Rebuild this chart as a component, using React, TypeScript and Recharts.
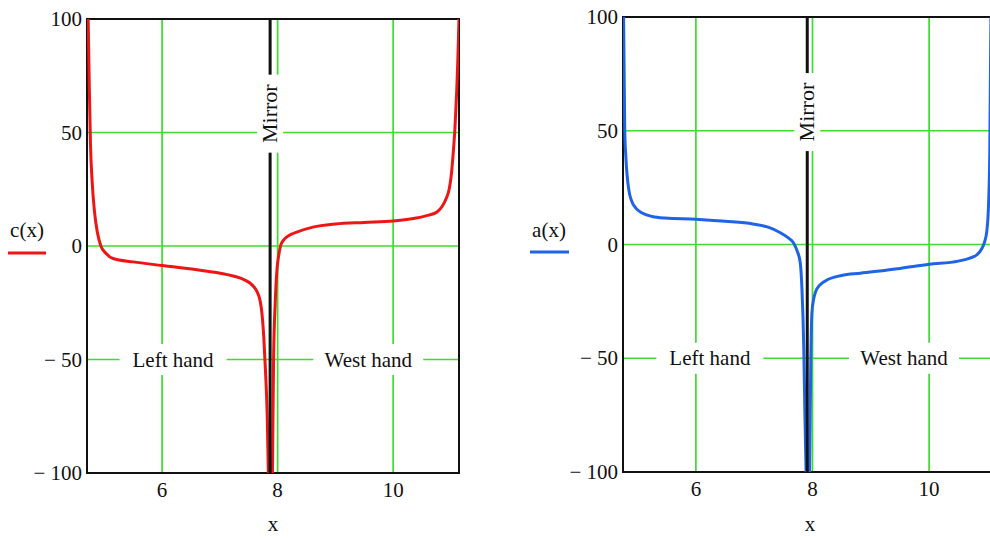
import {
  LineChart, Line, XAxis, YAxis, CartesianGrid, ReferenceLine, ReferenceDot, ReferenceArea
} from 'recharts';

const SERIF = '"Liberation Serif", "Times New Roman", Times, serif';
const GREEN = '#3ddc2e';
const INK = '#111';

// c(x): branch left of the mirror, then right of it
const cLeftX = [4.72, 4.74, 4.76, 4.79, 4.83, 4.88, 4.94, 5.02, 5.15, 5.5, 6.0, 6.66, 7.23, 7.4, 7.52, 7.6, 7.66, 7.7, 7.73, 7.76, 7.79, 7.82, 7.84];
const cLeftY = [100, 70, 45, 28, 15, 6, 0, -3, -5.5, -7, -8.6, -10.7, -13.2, -14.6, -16.3, -18.3, -21, -24.5, -30, -40, -55, -75, -100];
const cRightX = [7.91, 7.93, 7.96, 7.99, 8.02, 8.05, 8.1, 8.16, 8.24, 8.33, 8.61, 9.0, 9.5, 10.0, 10.4, 10.6, 10.76, 10.85, 10.92, 10.97, 11.01, 11.04, 11.07, 11.1, 11.12, 11.14];
const cRightY = [-100, -50, -24, -10, -4, 0, 2.5, 4, 5.2, 6.1, 8.3, 9.7, 10.4, 11, 12.3, 13.5, 15, 17.5, 21, 25, 32, 41, 52, 68, 82, 100];

// a(x): the mirrored curve
const aLeftX = [4.76, 4.78, 4.8, 4.85, 4.9, 4.97, 5.07, 5.25, 5.47, 6.0, 6.5, 6.98, 7.25, 7.44, 7.58, 7.67, 7.74, 7.79, 7.82, 7.85, 7.87, 7.89];
const aLeftY = [100, 50, 38, 24, 19, 16, 14, 12.3, 11.6, 11.1, 10.2, 9, 7.5, 5.3, 3, 0.9, -3, -8, -20, -45, -75, -100];
const aRightX = [7.95, 7.97, 7.99, 8.02, 8.05, 8.12, 8.22, 8.5, 8.82, 9.5, 10.0, 10.5, 10.7, 10.82, 10.9, 10.95, 10.99, 11.02, 11.04, 11.06];
const aRightY = [-100, -52, -30, -24, -21, -18, -16, -13.6, -12.6, -10.5, -8.7, -7.3, -6, -4.5, -2, 1, 6, 18, 40, 100];

const xTicks = [6, 8, 10];
const yTicks = [-100, -50, 0, 50, 100];

type Row = { x: number; y: number };
const rows = (xs: number[], ys: number[]): Row[] => xs.map((x, i) => ({ x, y: ys[i] }));

const XTick = (p: any) => (
  <text x={p.x} y={p.y + 24} textAnchor="middle" fontSize={21} fontFamily={SERIF} fill={INK}>
    {p.payload.value}
  </text>
);

const YTick = (p: any) => {
  const v = p.payload.value;
  return (
    <text x={p.x} y={p.y + 7} textAnchor="end" fontSize={21} fontFamily={SERIF} fill={INK}>
      {v < 0 ? `− ${-v}` : v}
    </text>
  );
};

const boxLabel = (text: string, w: number, h: number) => (p: any) => (
  <g>
    <rect x={p.cx - w / 2} y={p.cy - h / 2} width={w} height={h} fill="#fff" />
    <text x={p.cx} y={p.cy + 7} textAnchor="middle" fontSize={21} fontFamily={SERIF} fill={INK}>
      {text}
    </text>
  </g>
);

const mirrorLabel = (p: any) => (
  <g>
    <rect x={p.cx - 13} y={p.cy - 39} width={26} height={78} fill="#fff" />
    <text
      x={p.cx}
      y={p.cy}
      dy={7}
      transform={`rotate(-90 ${p.cx} ${p.cy})`}
      textAnchor="middle"
      fontSize={22}
      fontFamily={SERIF}
      fill={INK}
    >
      Mirror
    </text>
  </g>
);

type PanelProps = {
  left: number;
  top: number;
  axisH: number;
  domain: [number, number];
  mirror: number;
  mirrorY: number;
  leftHandX: number;
  westHandX: number;
  pieces: Row[][];
  color: string;
};

function Panel({ left, top, axisH, domain, mirror, mirrorY, leftHandX, westHandX, pieces, color }: PanelProps) {
  return (
    <div style={{ position: 'absolute', left, top: 0 }}>
      <LineChart width={480} height={538} margin={{ top, right: 21, left: 0, bottom: 0 }}>
        <CartesianGrid stroke={GREEN} strokeWidth={1.7} />
        <XAxis
          type="number"
          dataKey="x"
          domain={domain}
          ticks={xTicks}
          allowDataOverflow
          axisLine={false}
          tickLine={false}
          tickSize={0}
          tickMargin={0}
          height={axisH}
          tick={XTick}
        />
        <YAxis
          type="number"
          dataKey="y"
          domain={[-100, 100]}
          ticks={yTicks}
          allowDataOverflow
          axisLine={false}
          tickLine={false}
          tickSize={0}
          tickMargin={5}
          width={87}
          tick={YTick}
        />
        {pieces.map((d, i) => (
          <Line
            key={i}
            data={d}
            dataKey="y"
            type="monotone"
            stroke={color}
            strokeWidth={3}
            dot={false}
            activeDot={false}
            isAnimationActive={false}
          />
        ))}
        <ReferenceLine x={mirror} stroke={INK} strokeWidth={3} />
        <ReferenceDot x={mirror} y={mirrorY} r={0} shape={mirrorLabel} />
        <ReferenceDot x={leftHandX} y={-50} r={0} shape={boxLabel('Left hand', 107, 31)} />
        <ReferenceDot x={westHandX} y={-50} r={0} shape={boxLabel('West hand', 110, 31)} />
        <ReferenceArea
          x1={domain[0]}
          x2={domain[1]}
          y1={-100}
          y2={100}
          fill="none"
          stroke={INK}
          strokeWidth={2}
        />
      </LineChart>
    </div>
  );
}

export default function App() {
  return (
    <div
      style={{
        position: 'fixed',
        left: 0,
        top: 0,
        width: 990,
        height: 538,
        overflow: 'hidden',
        background: '#fff',
      }}
    >
      <Panel
        left={0}
        top={19}
        axisH={65}
        domain={[4.7, 11.14]}
        mirror={7.87}
        mirrorY={58.3}
        leftHandX={6.19}
        westHandX={9.57}
        pieces={[rows(cLeftX, cLeftY), rows(cRightX, cRightY)]}
        color="#ee1515"
      />
      <Panel
        left={536}
        top={17}
        axisH={66}
        domain={[4.75, 11.13]}
        mirror={7.91}
        mirrorY={58.2}
        leftHandX={6.24}
        westHandX={9.57}
        pieces={[rows(aLeftX, aLeftY), rows(aRightX, aRightY)]}
        color="#1f63e6"
      />
      <svg width={990} height={538} style={{ position: 'absolute', left: 0, top: 0, pointerEvents: 'none' }}>
        <text x={27} y={237} textAnchor="middle" fontSize={21} fontFamily={SERIF} fill={INK}>c(x)</text>
        <line x1={8} y1={253} x2={46} y2={253} stroke="#ee1515" strokeWidth={3} />
        <text x={549} y={237} textAnchor="middle" fontSize={21} fontFamily={SERIF} fill={INK}>a(x)</text>
        <line x1={530} y1={252} x2={569} y2={252} stroke="#1f63e6" strokeWidth={3} />
        <text x={273} y={531} textAnchor="middle" fontSize={21} fontFamily={SERIF} fill={INK}>x</text>
        <text x={810} y={531} textAnchor="middle" fontSize={21} fontFamily={SERIF} fill={INK}>x</text>
      </svg>
    </div>
  );
}
